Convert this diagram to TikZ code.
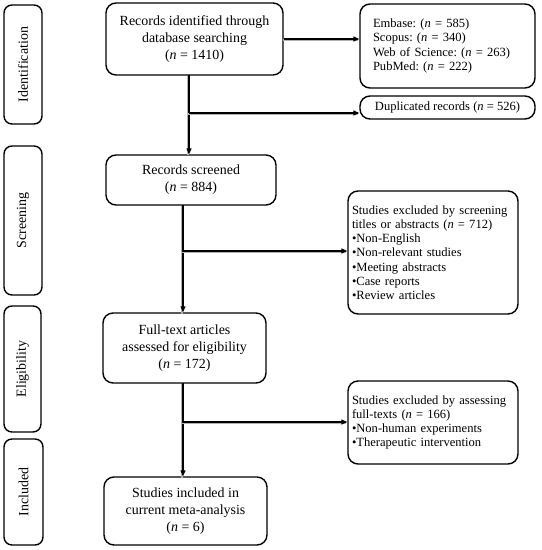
\documentclass[tikz,border=0pt]{standalone}
\usepackage{fontspec}
\setmainfont{Liberation Serif}
\usetikzlibrary{arrows.meta}
\begin{document}
\frenchspacing
\begin{tikzpicture}[x=1bp,y=-1bp,
  box/.style={draw=black, line width=1.4bp, rounded corners=10bp, inner sep=0pt, align=center,
    font=\fontsize{14}{17}\selectfont},
  sbox/.style={draw=black, line width=1.4bp, rounded corners=10bp, inner sep=0pt, align=left,
    font=\fontsize{12.6}{14.3}\selectfont},
  side/.style={draw=black, line width=1.4bp, rounded corners=8bp, inner sep=0pt, rotate=90,
    font=\fontsize{14}{17}\selectfont},
  flow/.style={line width=1.2bp, -{Triangle[length=6bp,width=5bp]},
    preaction={draw=black!30, line width=1.4bp, -, transform canvas={shift={(-1.2bp,-1.2bp)}}}}
]
\useasboundingbox (0,0) rectangle (542,550);
% side labels
\node[side, minimum width=119bp, minimum height=38bp] (lid) at (23,64.5) {Identification};
\node[side, minimum width=149bp, minimum height=38bp] (lsc) at (23,220.5) {Screening};
\node[side, minimum width=126bp, minimum height=37bp] (lel) at (22.5,369) {Eligibility};
\node[side, minimum width=106bp, minimum height=39bp] (lin) at (23.5,492) {Included};
% main boxes
\node[box, minimum width=177bp, minimum height=72bp] (b1) at (194.5,39)
  {Records identified through\\database searching\\(\textit{n} = 1410)};
\node[box, minimum width=170bp, minimum height=50bp] (b2) at (191,180)
  {Records screened\\(\textit{n} = 884)};
\node[box, minimum width=163bp, minimum height=70bp] (b3) at (184.5,348)
  {Full-text articles\\assessed for eligibility\\(\textit{n} = 172)};
\node[box, minimum width=163bp, minimum height=68bp] (b4) at (185.5,511)
  {Studies included in\\current meta-analysis\\(\textit{n} = 6)};
% side boxes
\node[sbox, minimum width=175bp, minimum height=84bp, text width=149bp, inner xsep=13bp] (db) at (447.5,46)
  {Embase: (\textit{n} = 585)\\Scopus: (\textit{n} = 340)\\Web of Science: (\textit{n} = 263)\\PubMed: (\textit{n} = 222)};
\node[sbox, align=center, minimum width=175bp, minimum height=23bp] (dup) at (447.5,107.5)
  {Duplicated records (\textit{n} = 526)};
\node[sbox, minimum width=170bp, minimum height=123bp, text width=162bp, inner xsep=4bp] (ex1) at (433,252.5)
  {Studies excluded by screening\\titles or abstracts (\textit{n} = 712)\\•Non-English\\•Non-relevant studies\\•Meeting abstracts\\•Case reports\\•Review articles};
\node[sbox, minimum width=170bp, minimum height=83bp, text width=162bp, inner xsep=4bp] (ex2) at (433,422.5)
  {Studies excluded by assessing\\full-texts (\textit{n} = 166)\\•Non-human experiments\\•Therapeutic intervention};
% connectors
\coordinate (t1) at (189,75);
\coordinate (j1) at (189,113);
\coordinate (t2) at (183,205);
\coordinate (j2) at (183,251);
\coordinate (t3) at (183,383);
\coordinate (j3) at (183,422);
\draw[flow] (b1.east) -- (b1.east -| db.west);
\draw[flow] (t1) -- (t1 |- b2.north);
\draw[flow] (j1) -- (j1 -| dup.west);
\draw[flow] (t2) -- (t2 |- b3.north);
\draw[flow] (j2) -- (j2 -| ex1.west);
\draw[flow] (t3) -- (t3 |- b4.north);
\draw[flow] (j3) -- (j3 -| ex2.west);
\end{tikzpicture}
\end{document}
